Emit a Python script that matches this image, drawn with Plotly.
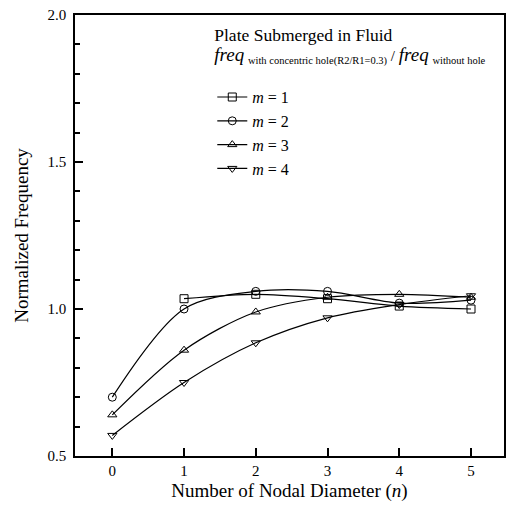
import plotly.graph_objects as go

n_vals = [0, 1, 2, 3, 4, 5]
m1_n = [1, 2, 3, 4, 5]
m1 = [1.035, 1.05, 1.035, 1.01, 1.0]
m2 = [0.70, 1.0, 1.06, 1.06, 1.02, 1.03]
m3 = [0.64, 0.86, 0.99, 1.04, 1.05, 1.04]
m4 = [0.57, 0.75, 0.885, 0.97, 1.015, 1.045]

series = [
    ("<i>m</i> = 1", m1_n, m1, "square-open"),
    ("<i>m</i> = 2", n_vals, m2, "circle-open"),
    ("<i>m</i> = 3", n_vals, m3, "triangle-up-open"),
    ("<i>m</i> = 4", n_vals, m4, "triangle-down-open"),
]

FONT = "Liberation Serif, Times New Roman, serif"

fig = go.Figure()
for name, xs, ys, sym in series:
    fig.add_trace(go.Scatter(
        x=xs, y=ys, name=name, mode="lines+markers",
        line=dict(color="black", width=1.2, shape="spline", smoothing=0.9),
        marker=dict(symbol=sym, size=8, color="black", line=dict(width=1, color="black")),
    ))

title_text = ("<span style='font-size:17.5px'>Plate Submerged in Fluid</span><br>"
              "<span style='font-size:19px'><i>freq</i></span> "
              "<sub>with concentric hole(R2/R1=0.3)</sub> / "
              "<span style='font-size:19px'><i>freq</i></span> <sub>without hole</sub><br> ")

fig.update_layout(
    width=508, height=524,
    margin=dict(l=75, r=2, t=15, b=68),
    paper_bgcolor="white", plot_bgcolor="white",
    font=dict(family=FONT, color="black", size=15),
    showlegend=True,
    legend=dict(
        x=0.32, y=0.985, xanchor="left", yanchor="top",
        bgcolor="rgba(0,0,0,0)",
        font=dict(family=FONT, size=16),
        tracegroupgap=0,
        title=dict(text=title_text, font=dict(family=FONT, size=15), side="top"),
    ),
    xaxis=dict(
        range=[-0.52, 5.46], tickvals=n_vals, ticktext=[str(v) for v in n_vals],
        ticks="inside", ticklen=8, tickwidth=1.5, tickcolor="black",
        showline=True, linecolor="black", linewidth=1.5, mirror=True,
        showgrid=False, zeroline=False,
        title=dict(text="Number of Nodal Diameter (<i>n</i>)", font=dict(family=FONT, size=19), standoff=6),
        tickfont=dict(size=15),
    ),
    yaxis=dict(
        range=[0.5, 2.0], tickvals=[0.5, 1.0, 1.5, 2.0], ticktext=["0.5", "1.0", "1.5", "2.0"],
        ticks="inside", ticklen=8, tickwidth=1.5, tickcolor="black",
        ticklabelstandoff=4,
        minor=dict(dtick=0.1, ticks="inside", ticklen=5, tickcolor="black", showgrid=False),
        showline=True, linecolor="black", linewidth=1.5, mirror=True,
        showgrid=False, zeroline=False,
        title=dict(text="Normalized Frequency", font=dict(family=FONT, size=19), standoff=14),
        tickfont=dict(size=15),
    ),
)

fig.write_html("out.html")
